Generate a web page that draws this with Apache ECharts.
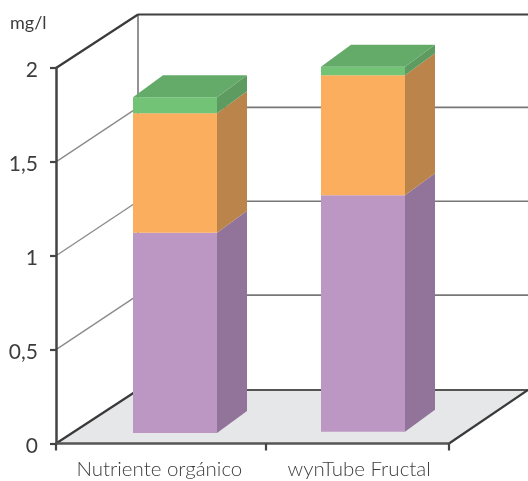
<!DOCTYPE html>
<html>
<head>
<meta charset="utf-8">
<style>html,body{margin:0;padding:0;background:#fff}#chart{width:528px;height:481px}</style>
<script src="https://cdn.jsdelivr.net/npm/echarts@6/dist/echarts.min.js"></script>
</head>
<body>
<div id="chart"></div>
<script>
// Stacked concentrations per product, in mg/l
const categories = ['Nutriente orgánico', 'wynTube Fructal'];
const purpleValues = [1.067, 1.26];
const orangeValues = [0.636, 0.638];
const greenValues = [0.085, 0.046];
const yTicks = [0, 0.5, 1, 1.5, 2];

// Places along the horizontal axis, which runs from 0 to 2
const barCentres = [0.6056, 1.5623];
const barWidth = 0.4275;
const labelCentres = [0.526, 1.543];
const xTickPlaces = [0, 1.069, 2];

// Pseudo-3D projection offsets, in pixels
const wallDepth = [82, -53.5];
const gridlineDepth = [82, -54.5];
const floorRightDepth = [79, -53.5];
const barDepth = [30, -22];
const barLift = [10.5, 11.8];

const FONT = 'Lato';
const INK = '#3d3d3d';

const stacks = [
  { name: 'Púrpura', values: purpleValues, front: '#bc97c4', side: '#927399' },
  { name: 'Naranja', values: orangeValues, front: '#fbae5e', side: '#ba844b' },
  { name: 'Verde', values: greenValues, front: '#72c376', side: '#5d9b60', top: '#64aa69' }
];

function offset(p, d) {
  return [p[0] + d[0], p[1] + d[1]];
}

function line(a, b, stroke, lineWidth) {
  return { type: 'line', shape: { x1: a[0], y1: a[1], x2: b[0], y2: b[1] }, style: { stroke, lineWidth, fill: null } };
}

// Floor, side wall and back wall of the box behind the bars
function renderBox(params, api) {
  const o = api.coord([0, 0]);
  const r = api.coord([2, 0]);
  const backLeft = offset(o, wallDepth);
  const backRight = offset(r, floorRightDepth);
  const children = [{
    type: 'polygon',
    shape: { points: [o, r, backRight, backLeft] },
    style: { fill: '#e6e7e8' }
  }];
  yTicks.slice(1, -1).forEach(v => {
    const a = api.coord([0, v]);
    const b = offset(a, gridlineDepth);
    children.push(line(a, b, '#8c8c8c', 1.4));
    children.push(line(b, [r[0] + wallDepth[0], b[1]], '#777777', 1.6));
  });
  const top = api.coord([0, 2]);
  const topBack = offset(top, wallDepth);
  children.push(line(backLeft, topBack, '#777777', 1.6));
  children.push(line(top, topBack, '#3a3a3a', 2.2));
  children.push(line(topBack, [r[0] + wallDepth[0], topBack[1]], '#3f3f3f', 2));
  children.push(line(o, backLeft, '#3a3a3a', 2.2));
  children.push(line(backLeft, [r[0] + wallDepth[0], backLeft[1]], '#555555', 2));
  children.push(line(r, backRight, '#3a3a3a', 2.2));
  return { type: 'group', children };
}

// One stack segment of a bar: front face, side face and, on the last segment, a top face
function renderSegment(stackIndex) {
  return function (params, api) {
    const i = params.dataIndex;
    let base = 0;
    for (let s = 0; s < stackIndex; s++) base += stacks[s].values[i];
    const stack = stacks[stackIndex];
    const tipValue = base + stack.values[i];
    const left = barCentres[i] - barWidth / 2;
    const right = barCentres[i] + barWidth / 2;
    const lift = p => [p[0], p[1] - barLift[i]];
    const a = lift(api.coord([left, base]));
    const b = lift(api.coord([right, base]));
    const c = lift(api.coord([right, tipValue]));
    const d = lift(api.coord([left, tipValue]));
    const children = [
      { type: 'polygon', shape: { points: [b, offset(b, barDepth), offset(c, barDepth), c] }, style: { fill: stack.side } },
      { type: 'polygon', shape: { points: [a, b, c, d] }, style: { fill: stack.front } }
    ];
    if (stack.top) {
      children.push({ type: 'polygon', shape: { points: [d, c, offset(c, barDepth), offset(d, barDepth)] }, style: { fill: stack.top } });
    }
    return { type: 'group', children };
  };
}

const chart = echarts.init(document.getElementById('chart'), null, { renderer: 'canvas' });
chart.setOption({
  animation: false,
  backgroundColor: '#ffffff',
  grid: { left: 56, right: 79, top: 68, bottom: 37.5, containLabel: false },
  xAxis: {
    type: 'value',
    min: 0,
    max: 2,
    z: 5,
    splitLine: { show: false },
    axisLine: { show: true, onZero: false, lineStyle: { color: '#555555', width: 2.5 } },
    axisTick: { show: true, customValues: xTickPlaces, length: 7, lineStyle: { color: '#444444', width: 2.2 } },
    axisLabel: {
      customValues: labelCentres,
      margin: 15,
      color: INK,
      fontFamily: FONT,
      fontWeight: 300,
      fontSize: 20.5,
      hideOverlap: false,
      formatter: v => categories[labelCentres.indexOf(v)] || ''
    }
  },
  yAxis: {
    type: 'value',
    min: 0,
    max: 2,
    interval: 0.5,
    z: 5,
    name: 'mg/l',
    nameLocation: 'end',
    nameGap: 36,
    nameTextStyle: { color: INK, fontFamily: FONT, fontSize: 18, align: 'left', padding: [0, 0, 0, -46] },
    splitLine: { show: false },
    axisLine: { show: true, onZero: false, lineStyle: { color: '#444444', width: 2.5 } },
    axisTick: { show: true, length: 6, lineStyle: { color: '#444444', width: 2.2 } },
    axisLabel: {
      margin: 18,
      formatter: v => '{tick|' + String(v).replace('.', ',') + '}',
      rich: {
        tick: { color: INK, fontFamily: FONT, fontSize: 21, padding: [5, 0, 0, 0] }
      }
    }
  },
  series: [
    { type: 'custom', name: 'Caja', z: 1, renderItem: renderBox, data: [[0, 0]], silent: true },
    ...stacks.map((stack, s) => ({
      type: 'custom',
      name: stack.name,
      z: 2 + s,
      renderItem: renderSegment(s),
      data: stack.values.map((v, i) => [barCentres[i], v])
    }))
  ]
});
</script>
</body>
</html>
